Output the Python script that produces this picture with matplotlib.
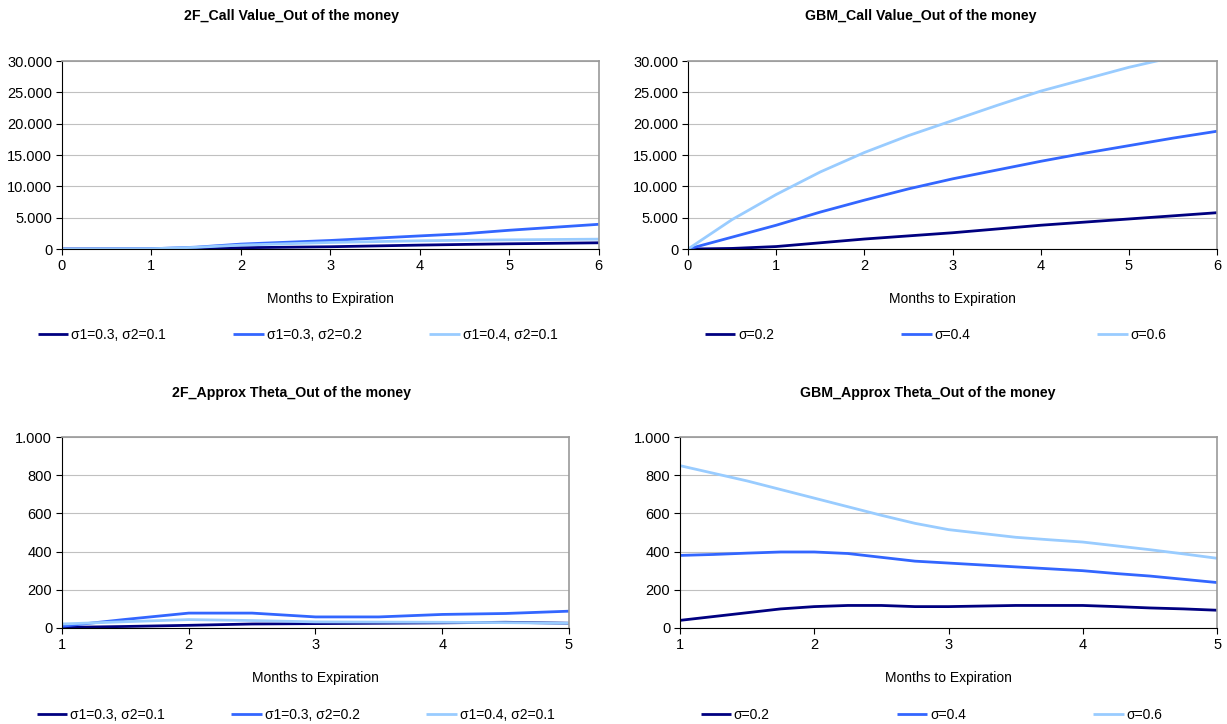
import numpy as np
import matplotlib
matplotlib.use("Agg")
import matplotlib.pyplot as plt
from matplotlib.ticker import FuncFormatter

plt.rcParams['font.family'] = ['Liberation Sans', 'DejaVu Sans']

# colours used by the three series in every panel
dark = '#000080'
mid = '#3366FF'
light = '#99CCFF'

# 2F call value, months 0..6
months_call = [0, 1, 1.5, 2, 3, 4, 4.5, 5, 6]
call_2f_a = [0, 0, 60, 210, 370, 630, 740, 840, 1000]        # s1=0.3, s2=0.1
call_2f_b = [0, 50, 300, 790, 1370, 2100, 2450, 3000, 3950]  # s1=0.3, s2=0.2
call_2f_c = [0, 50, 280, 630, 1050, 1320, 1400, 1470, 1580]  # s1=0.4, s2=0.1

# GBM call value
months_gbm = [0, 0.5, 1, 1.5, 2, 2.5, 3, 3.5, 4, 4.5, 5, 5.5, 6]
call_gbm_02 = [0, 100, 400, 1000, 1600, 2100, 2600, 3200, 3800, 4300, 4800, 5300, 5800]
call_gbm_04 = [0, 1900, 3800, 5900, 7800, 9600, 11200, 12600, 14000, 15300, 16500, 17700, 18800]
call_gbm_06 = [0, 4700, 8700, 12300, 15400, 18100, 20500, 22900, 25200, 27100, 29000, 30600, 32200]

# 2F approx theta, months 1..5
months_th2f = [1, 1.5, 2, 2.5, 3, 3.5, 4, 4.5, 5]
theta_2f_a = [3, 8, 14, 21, 23, 25, 27, 30, 25]
theta_2f_b = [9, 45, 78, 78, 58, 58, 71, 76, 88]
theta_2f_c = [21, 33, 44, 39, 32, 31, 30, 28, 25]

# GBM approx theta
months_thg = [1, 1.25, 1.5, 1.75, 2, 2.25, 2.5, 2.75, 3, 3.25, 3.5, 3.75, 4, 4.25, 4.5, 4.75, 5]
theta_gbm_02 = [40, 60, 80, 100, 112, 118, 118, 112, 112, 115, 118, 118, 118, 112, 105, 100, 93]
theta_gbm_04 = [380, 385, 392, 398, 398, 390, 370, 350, 340, 330, 320, 310, 300, 285, 272, 255, 238]
theta_gbm_06 = [850, 810, 770, 725, 680, 635, 590, 548, 515, 495, 475, 462, 450, 430, 410, 388, 365]

labels_2f = ['σ1=0.3, σ2=0.1', 'σ1=0.3, σ2=0.2', 'σ1=0.4, σ2=0.1']
labels_gbm = ['σ=0.2', 'σ=0.4', 'σ=0.6']

dot_fmt = FuncFormatter(lambda v, p: f"{v:,.0f}".replace(",", "."))

fig = plt.figure(figsize=(12.27, 7.24), dpi=100)


def panel(rect, title, title_xy, x, series, labels, xlim, ylim, ystep, leg_box):
    ax = fig.add_axes(rect)
    for ys, c, lab in zip(series, [dark, mid, light], labels):
        ax.plot(x, ys, color=c, lw=2.0, label=lab, solid_capstyle='butt')
    ax.set_xlim(*xlim)
    ax.set_ylim(*ylim)
    ax.set_xticks(range(xlim[0], xlim[1] + 1))
    ax.set_yticks(np.arange(ylim[0], ylim[1] + 1, ystep))
    ax.yaxis.set_major_formatter(dot_fmt)
    ax.grid(axis='y', color='#c0c0c0', lw=0.8)
    ax.set_axisbelow(True)
    for s in ['top', 'right']:
        ax.spines[s].set_color('#999999')
        ax.spines[s].set_linewidth(1.2)
    for s in ['left', 'bottom']:
        ax.spines[s].set_color('black')
        ax.spines[s].set_linewidth(0.8)
    ax.tick_params(labelsize=10.5, length=4, width=0.8, direction='out', pad=3)
    ax.set_xlabel('Months to Expiration', fontsize=10, labelpad=14)
    # title is centred on the whole chart area, not the plot area
    fig.text(title_xy[0], title_xy[1], title, fontsize=10.2, fontweight='bold',
             ha='center', va='center')
    fig.legend(*ax.get_legend_handles_labels(), loc='center',
               bbox_to_anchor=leg_box, mode='expand', ncol=3, frameon=False,
               fontsize=10, handlelength=2.2, handletextpad=0.2,
               borderaxespad=0)
    return ax


ax1 = panel([0.0505, 0.656, 0.4375, 0.2597], '2F_Call Value_Out of the money',
            (292 / 1227, 1 - 16 / 724),
            months_call, [call_2f_a, call_2f_b, call_2f_c], labels_2f,
            (0, 6), (0, 30000), 5000, (0.0261, 0.517, 0.4327, 0.04))
ax2 = panel([0.5607, 0.656, 0.4312, 0.2597], 'GBM_Call Value_Out of the money',
            (921 / 1227, 1 - 16 / 724),
            months_gbm, [call_gbm_02, call_gbm_04, call_gbm_06], labels_gbm,
            (0, 6), (0, 30000), 5000, (0.5697, 0.517, 0.3855, 0.04))
ax3 = panel([0.0505, 0.1326, 0.4132, 0.2638], '2F_Approx Theta_Out of the money',
            (292 / 1227, 1 - 393 / 724),
            months_th2f, [theta_2f_a, theta_2f_b, theta_2f_c], labels_2f,
            (1, 5), (0, 1000), 200, (0.0253, -0.0076, 0.4311, 0.04))
ax4 = panel([0.5542, 0.1326, 0.4377, 0.2638], 'GBM_Approx Theta_Out of the money',
            (928 / 1227, 1 - 393 / 724),
            months_thg, [theta_gbm_02, theta_gbm_04, theta_gbm_06], labels_gbm,
            (1, 5), (0, 1000), 200, (0.5664, -0.0076, 0.3855, 0.04))

fig.savefig('out.png', dpi=100)
